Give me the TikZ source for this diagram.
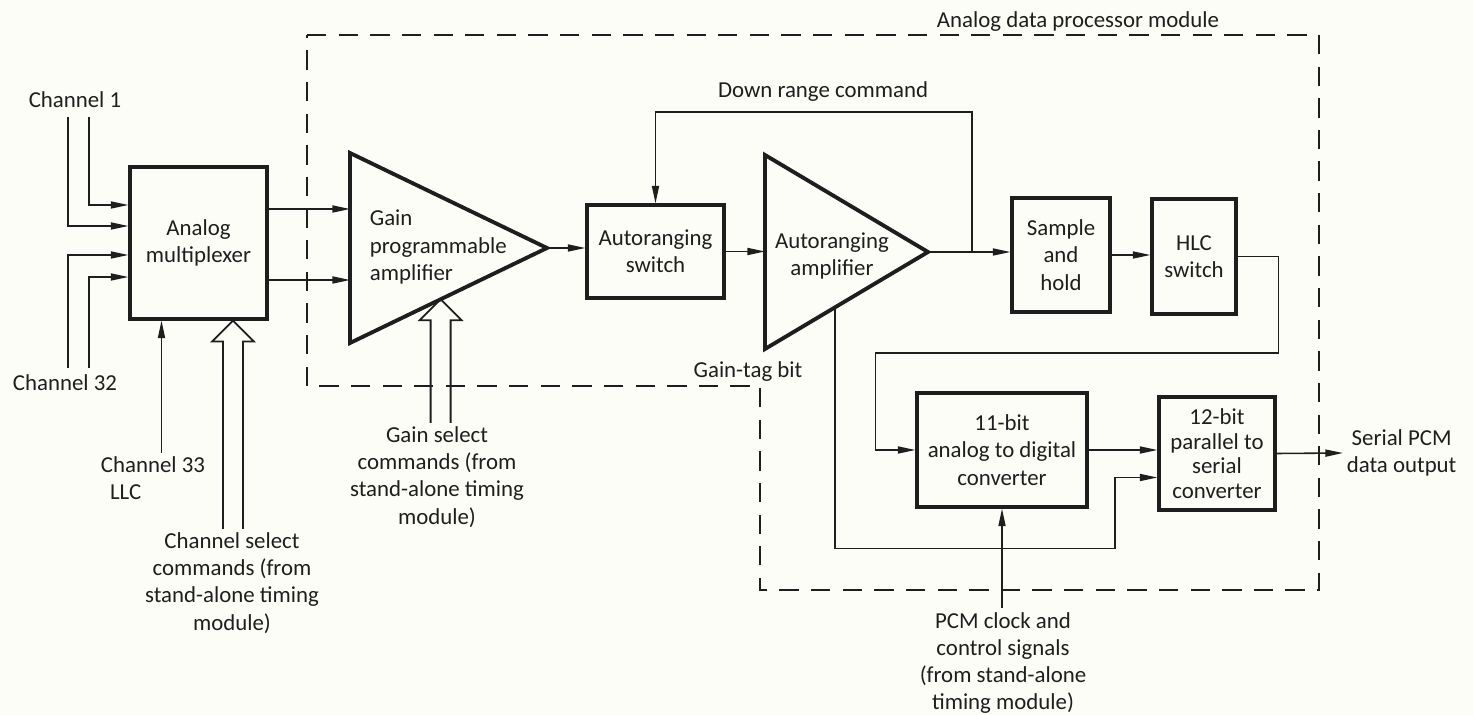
\documentclass[tikz,border=0pt]{standalone}
\usepackage{fontspec}
\setmainfont{Carlito}
\usetikzlibrary{positioning, calc, arrows.meta}
\tikzset{
    Signal/.style = {line width=0.9pt, -{Triangle[length=10pt, width=4pt]}},
    Block/.style = {draw, line width=1.8pt, align=center, inner sep=2pt},
    Amp/.style = {line width=2.2pt, line join=miter},
    Bus/.style = {line width=1pt, line join=miter},
    Boundary/.style = {line width=1.1pt, dash pattern=on 11pt off 7pt},
    Label/.style = {align=center, inner sep=2pt}
}
\definecolor{paper}{HTML}{FDFDF7}
\definecolor{ink}{HTML}{1E1E1E}
% hollow command bus arrow: tip coordinate, label node below it
\newcommand{\busarrow}[2]{%
    \draw[Bus] ($(#1 |- #2.north)+(-10,0)$) -- ($(#1)+(-10,21)$) -- ($(#1)+(-21,21)$) -- (#1)
        -- ($(#1)+(21,21)$) -- ($(#1)+(10,21)$) -- ($(#1 |- #2.north)+(10,0)$);
}

\begin{document}
\begin{tikzpicture}[x=0.02cm, y=-0.02cm, font=\fontsize{13}{15.5}\selectfont, color=ink]
    \fill[paper] (0,0) rectangle (1473,715);
    \useasboundingbox (0,0) rectangle (1473,715);

    % module boundary
    \node[Label] (modLab) at (1078,22) {Analog data processor module};
    \draw[Boundary] (307,35) -- (1319,35) -- (1319,590) -- (760,590) -- (760,386) -- (307,386) -- cycle;

    % multiplexer and channel inputs
    \node[Block, minimum width=2.74cm, minimum height=3.04cm] (mux) at (198.5,243) {Analog\\multiplexer};
    \node[Label] (chA) at (75,100) {Channel 1};
    \node[Label] (chB) at (65,383) {Channel 32};
    \coordinate (in1) at (89,117);
    \coordinate (in2) at (68,117);
    \coordinate (in3) at (68,368);
    \coordinate (in4) at (89,368);
    \draw[Signal] (in1) |- ($(mux.west)+(0,-38)$);
    \draw[Signal] (in2) |- ($(mux.west)+(0,-17)$);
    \draw[Signal] (in3) |- ($(mux.west)+(0,12)$);
    \draw[Signal] (in4) |- ($(mux.west)+(0,34)$);

    \node[Label, align=left] (ch33) at (153,478) {Channel 33\\\hspace{0.4em}LLC};
    \coordinate (llc) at ($(mux.south)+(-37,0)$);
    \draw[Signal] (llc |- ch33.north) -- (llc);

    \node[Label] (cselLab) at (232,583) {Channel select\\commands (from\\stand-alone timing\\module)};
    \coordinate (csel) at ($(mux.south)+(34.5,0)$);
    \busarrow{csel}{cselLab}

    % gain programmable amplifier
    \coordinate (gpaTop) at (350,153);
    \coordinate (gpaBot) at (350,343);
    \coordinate (gpaTip) at (547,248);
    \draw[Amp] (gpaTop) -- (gpaTip) -- (gpaBot) -- cycle;
    \node[Label, align=left, anchor=west] (gpa) at (366,247) {Gain\\programmable\\amplifier};
    \coordinate (gpaIn1) at (350,209);
    \coordinate (gpaIn2) at (350,280);
    \draw[Signal] (gpaIn1 -| mux.east) -- (gpaIn1);
    \draw[Signal] (gpaIn2 -| mux.east) -- (gpaIn2);

    \node[Label] (gselLab) at (437,477) {Gain select\\commands (from\\stand-alone timing\\module)};
    \coordinate (gsel) at ($(gpaBot)!0.46!(gpaTip)$);
    \busarrow{gsel}{gselLab}

    % autoranging stage
    \node[Block, minimum width=2.74cm, minimum height=1.86cm] (sw) at (655.5,251.5) {Autoranging\\switch};
    \draw[Signal] (gpaTip) -- (gpaTip -| sw.west);

    \coordinate (aaTop) at (765,155);
    \coordinate (aaBot) at (765,349);
    \coordinate (aaTip) at (928,252);
    \draw[Amp] (aaTop) -- (aaTip) -- (aaBot) -- cycle;
    \node[Label] (aa) at (832,256) {Autoranging\\amplifier};
    \draw[Signal] (sw.east) -- (sw.east -| aaTop);

    \node[Block, minimum width=1.96cm, minimum height=2.28cm] (sh) at (1061,255) {Sample\\and\\hold};
    \draw[Signal] (aaTip) -- (aaTip -| sh.west);

    \coordinate (drTap) at ($(aaTip)+(44,0)$);
    \node[Label] (drLab) at (823,92) {Down range command};
    \draw[Signal] (drTap) -- ++(0,-140) -| (sw.north);

    \node[Block, minimum width=1.68cm, minimum height=2.30cm] (hlc) at (1194,256.5) {HLC\\switch};
    \draw[Signal] (sh.east) -- (sh.east -| hlc.west);

    % conversion
    \node[Block, minimum width=3.4cm, minimum height=2.28cm] (adc) at (1002,450) {11-bit\\analog to digital\\converter};
    \draw[Signal] (hlc.east) -- ++(41,0) |- ($(adc.west)+(-40,-97)$) |- (adc.west);

    \node[Block, minimum width=2.32cm, minimum height=2.26cm, font=\fontsize{13}{14}\selectfont] (ps) at (1217,453.5) {12-bit\\parallel to\\serial\\converter};
    \draw[Signal] (adc.east) -- (adc.east -| ps.west);

    \coordinate (tag) at ($(aaBot)!0.43!(aaTip)$);
    \node[Label] (tagLab) at (748,372) {Gain-tag bit};
    \draw[Signal] (tag) |- ($(adc.south)+(113,40)$) |- ($(ps.west)+(0,24)$);

    \node[Label] (pcmLab) at (1003,663) {PCM clock and\\control signals\\(from stand-alone\\timing module)};
    \draw[Signal] (pcmLab.north -| adc.south) -- (adc.south);

    \node[Label, anchor=west] (outLab) at (1343,453) {Serial PCM\\data output};
    \draw[Signal] (ps.east) -- (outLab.west);
\end{tikzpicture}
\end{document}
